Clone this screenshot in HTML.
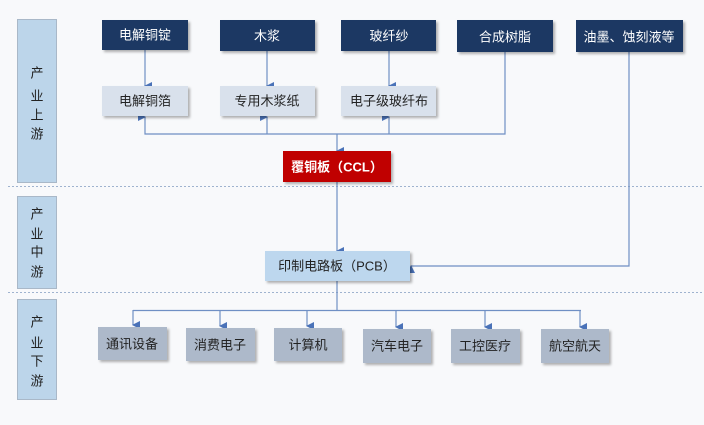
<!DOCTYPE html>
<html><head><meta charset="utf-8"><style>
body{margin:0;background:#f8f9fb;}
svg{display:block}
text{font-family:"Liberation Sans","Noto Sans CJK SC",sans-serif;font-size:13px;text-anchor:middle;dominant-baseline:central}
</style></head><body>
<svg width="704" height="425" viewBox="0 0 704 425" xmlns="http://www.w3.org/2000/svg">
<defs>
<marker id="a" markerWidth="8" markerHeight="8" refX="4" refY="7" orient="auto-start-reverse" markerUnits="userSpaceOnUse"><path d="M0,0 L8,0 L4,8 z" fill="#4a72b8" transform="rotate(0)"/></marker>
<filter id="s" x="-10%" y="-10%" width="130%" height="140%"><feDropShadow dx="2" dy="2" stdDeviation="1.2" flood-color="#000" flood-opacity="0.3"/></filter>
</defs>
<rect width="704" height="425" fill="#f8f9fb"/>
<!-- side labels -->
<g fill="#bcd5ea" stroke="#a9b8c8" stroke-width="1">
<rect x="17.5" y="19.5" width="39" height="163"/>
<rect x="17.5" y="196.5" width="39" height="92"/>
<rect x="17.5" y="299.5" width="39" height="100"/>
</g>
<g fill="#222" font-size="14">
<text x="37" y="73">产</text><text x="37" y="96">业</text><text x="37" y="115">上</text><text x="37" y="134">游</text>
<text x="37" y="214">产</text><text x="37" y="234">业</text><text x="37" y="252">中</text><text x="37" y="272">游</text>
<text x="37" y="322">产</text><text x="37" y="343">业</text><text x="37" y="361">下</text><text x="37" y="381">游</text>
</g>
<line x1="8" y1="186.5" x2="704" y2="186.5" stroke="#9fb3cf" stroke-dasharray="2,2"/>
<line x1="8" y1="292.5" x2="704" y2="292.5" stroke="#9fb3cf" stroke-dasharray="2,2"/>
<!-- connectors -->
<g stroke="#6f8fc4" stroke-width="1.2" fill="none">
<line x1="145" y1="50" x2="145" y2="86" marker-end="url(#a)"/>
<line x1="267" y1="51" x2="267" y2="86" marker-end="url(#a)"/>
<line x1="389" y1="51" x2="389" y2="86" marker-end="url(#a)"/>
<polyline points="505,52 505,134 145,134 145,117" marker-end="url(#a)"/>
<line x1="267" y1="134" x2="267" y2="117" marker-end="url(#a)"/>
<line x1="389" y1="134" x2="389" y2="117" marker-end="url(#a)"/>
<line x1="337" y1="134" x2="337" y2="151" marker-end="url(#a)"/>
<line x1="337" y1="182" x2="337" y2="251" marker-end="url(#a)"/>
<polyline points="629,52 629,266 411,266" marker-end="url(#a)"/>
<line x1="337" y1="281" x2="337" y2="310"/>
<line x1="133" y1="310.5" x2="581" y2="310.5"/>
<line x1="133" y1="310" x2="133" y2="325" marker-end="url(#a)"/>
<line x1="220" y1="310" x2="220" y2="326" marker-end="url(#a)"/>
<line x1="307" y1="310" x2="307" y2="326" marker-end="url(#a)"/>
<line x1="396" y1="310" x2="396" y2="327" marker-end="url(#a)"/>
<line x1="485" y1="310" x2="485" y2="327" marker-end="url(#a)"/>
<line x1="580" y1="310" x2="580" y2="327" marker-end="url(#a)"/>
</g>
<!-- top dark boxes -->
<g fill="#1f3864" filter="url(#s)">
<rect x="102" y="20" width="86" height="30"/>
<rect x="220" y="20" width="95" height="31"/>
<rect x="341" y="20" width="95" height="31"/>
<rect x="457" y="20" width="96" height="32"/>
<rect x="576" y="20" width="107" height="32"/>
</g>
<g fill="#fff">
<text x="145" y="35">电解铜锭</text><text x="267" y="36">木浆</text><text x="389" y="36">玻纤纱</text><text x="505" y="37">合成树脂</text><text x="629" y="37">油墨、蚀刻液等</text>
</g>
<g fill="#d9e1ec" filter="url(#s)">
<rect x="102" y="86" width="86" height="30"/>
<rect x="220" y="86" width="95" height="30"/>
<rect x="341" y="86" width="95" height="30"/>
</g>
<g fill="#222">
<text x="145" y="101">电解铜箔</text><text x="267" y="101">专用木浆纸</text><text x="389" y="101">电子级玻纤布</text>
</g>
<rect x="283" y="151" width="108" height="31" fill="#c00000" filter="url(#s)"/>
<text x="337" y="167" fill="#fff" font-weight="bold">覆铜板（CCL）</text>
<rect x="265" y="251" width="145" height="30" fill="#bdd7ee" filter="url(#s)"/>
<text x="337" y="266" fill="#222">印制电路板（PCB）</text>
<g fill="#adb9ca" filter="url(#s)">
<rect x="98" y="327" width="69" height="33"/>
<rect x="186" y="328" width="69" height="33"/>
<rect x="274" y="328" width="68" height="33"/>
<rect x="363" y="329" width="68" height="34"/>
<rect x="451" y="329" width="69" height="34"/>
<rect x="541" y="329" width="68" height="34"/>
</g>
<g fill="#222">
<text x="132" y="344">通讯设备</text><text x="220" y="345">消费电子</text><text x="308" y="345">计算机</text><text x="397" y="346">汽车电子</text><text x="485" y="346">工控医疗</text><text x="575" y="346">航空航天</text>
</g>
</svg>
</body></html>
